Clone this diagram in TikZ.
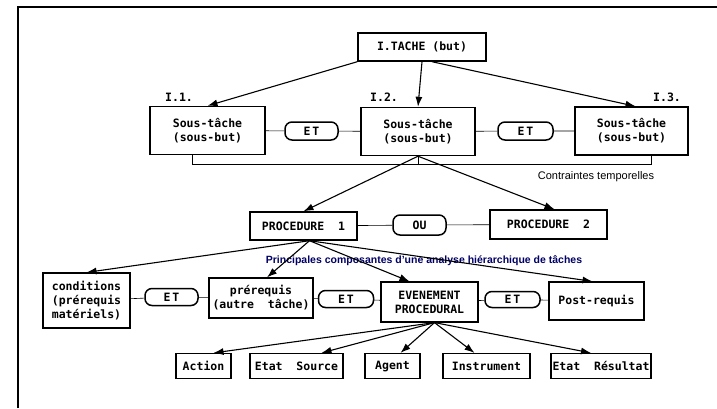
\documentclass[tikz,border=0pt]{standalone}
\usepackage{fontspec}
\setmainfont{Liberation Sans}
\newfontfamily\boitefont{DejaVu Sans Mono}
\usepackage{tikz}
\usetikzlibrary{arrows.meta}
\newcommand{\bfnt}{\boitefont\bfseries\fontsize{11.5}{14}\selectfont}

\begin{document}
\begin{tikzpicture}[x=1pt,y=-1pt,
  boite/.style={draw, line width=1.4pt, align=center, inner sep=1pt, font=\bfnt},
  ovale/.style={draw, rounded corners=7pt, line width=1.5pt, inner sep=0pt, font=\bfnt},
  fleche/.style={line width=1.1pt, -{Latex[length=10pt,width=7pt]}},
  trait/.style={line width=0.6pt},
  num/.style={font=\bfnt, inner sep=0pt}]
\useasboundingbox (0,0) rectangle (717,408);
% cadre
\draw[line width=1.5pt] (18,408) -- (18,7) -- (717,7);
%TACHE
\node[boite, minimum width=128, minimum height=28] (tache) at (422,47) {I.TACHE (but)};
\node[boite, minimum width=115, minimum height=48] (b11) at (207.5,130.5) {Sous-tâche\\(sous-but)};
\node[ovale, minimum width=53, minimum height=18] (et1) at (311.5,131) {E\,T};
\node[boite, minimum width=114, minimum height=48] (b12) at (418,131.5) {Sous-tâche\\(sous-but)};
\node[ovale, minimum width=55, minimum height=18] (et2) at (525.5,131) {E\,T};
\node[boite, minimum width=113, minimum height=48] (b13) at (631.5,131) {Sous-tâche\\(sous-but)};
\node[num] (n11) at (179,97) {I.1.};
\node[num] (n12) at (384,97) {I.2.};
\node[num] (n13) at (667,97) {I.3.};
\draw[trait] (b11) -- (et1) -- (b12);
\draw[trait] (b12) -- (et2) -- (b13);
\draw[fleche] (tache.south west) -- (b11.north);
\draw[fleche] (tache.south) -- (b12.north);
\draw[fleche] ([xshift=10]tache.south) -- ([xshift=4]b13.north);
% contraintes temporelles
\coordinate (ct1) at (192,164);
\coordinate (ct3) at (651,164);
\draw[trait] (ct1 |- b11.south) -- (ct1) -- (ct3) -- (ct3 |- b13.south);
\draw[trait] (b12.south) -- (b12.south |- ct1);
\node[font=\fontsize{11}{12}\selectfont, inner sep=0pt] (ctxt) at (596,177) {Contraintes temporelles};
%PROCEDURES
\node[boite, minimum width=107, minimum height=28] (proc1) at (303.5,226) {PROCEDURE\ \ 1};
\node[ovale, minimum width=53, minimum height=20] (ou) at (419.5,225) {OU};
\node[boite, minimum width=117, minimum height=29] (proc2) at (548.5,224.5) {PROCEDURE\ \ 2};
\draw[trait] (proc1) -- (ou) -- (proc2);
\draw[fleche] (b12.south) -- (proc1.north);
\draw[fleche] (b12.south) -- ([xshift=6]proc2.north);
\node[font=\bfseries\fontsize{10.5}{12}\selectfont, text=blue!40!black, inner sep=0pt] (titre) at (424,261)
  {Principales composantes d'une analyse hiérarchique de tâches};
%NIVEAU 3
\node[boite, line width=1.2pt, minimum width=87, minimum height=55] (cond) at (86.5,300.5) {conditions\\(prérequis\\matériels)};
\node[ovale, minimum width=53, minimum height=17] (et3) at (171.5,297) {E\,T};
\node[boite, line width=1.2pt, minimum width=104, minimum height=40] (prer) at (261,298) {prérequis\\(autre\ \ tâche)};
\node[ovale, minimum width=55, minimum height=17] (et4) at (346,299) {E\,T};
\node[boite, line width=1.2pt, minimum width=97, minimum height=40] (evt) at (429.5,302) {EVENEMENT\\PROCEDURAL};
\node[ovale, minimum width=55, minimum height=16] (et5) at (512.5,299.5) {E\,T};
\node[boite, line width=1.2pt, minimum width=95, minimum height=38] (post) at (596.5,301) {Post-requis};
\draw[trait] (cond) -- (et3) -- (prer);
\draw[trait] (prer) -- (et4) -- (evt);
\draw[trait] (evt) -- (et5) -- (post);
\draw[fleche] ([xshift=6]proc1.south) -- (cond.north);
\draw[fleche] ([xshift=6]proc1.south) -- ([xshift=6]prer.north);
\draw[fleche] ([xshift=6]proc1.south) -- ([xshift=-20]evt.north);
\draw[fleche] ([xshift=6]proc1.south) -- ([xshift=-4]post.north);
%BAS
\node[boite, line width=1.2pt, minimum width=55, minimum height=25] (act) at (203.5,366) {Action};
\node[boite, line width=1.2pt, minimum width=93, minimum height=25] (esrc) at (296.5,366) {Etat\ \ Source};
\node[boite, line width=1.2pt, minimum width=55, minimum height=25] (agent) at (392.5,366) {Agent};
\node[boite, line width=1.2pt, minimum width=87, minimum height=25] (instr) at (486.5,366) {Instrument};
\node[boite, line width=1.2pt, minimum width=100, minimum height=25] (eres) at (601,366) {Etat\ \ Résultat};
\draw[fleche] ([xshift=5]evt.south) -- ([xshift=10]act.north);
\draw[fleche] ([xshift=5]evt.south) -- ([xshift=25]esrc.north);
\draw[fleche] ([xshift=5]evt.south) -- ([xshift=8]agent.north);
\draw[fleche] ([xshift=5]evt.south) -- ([xshift=-12]instr.north);
\draw[fleche] ([xshift=5]evt.south) -- ([xshift=-10]eres.north);
\end{tikzpicture}
\end{document}
